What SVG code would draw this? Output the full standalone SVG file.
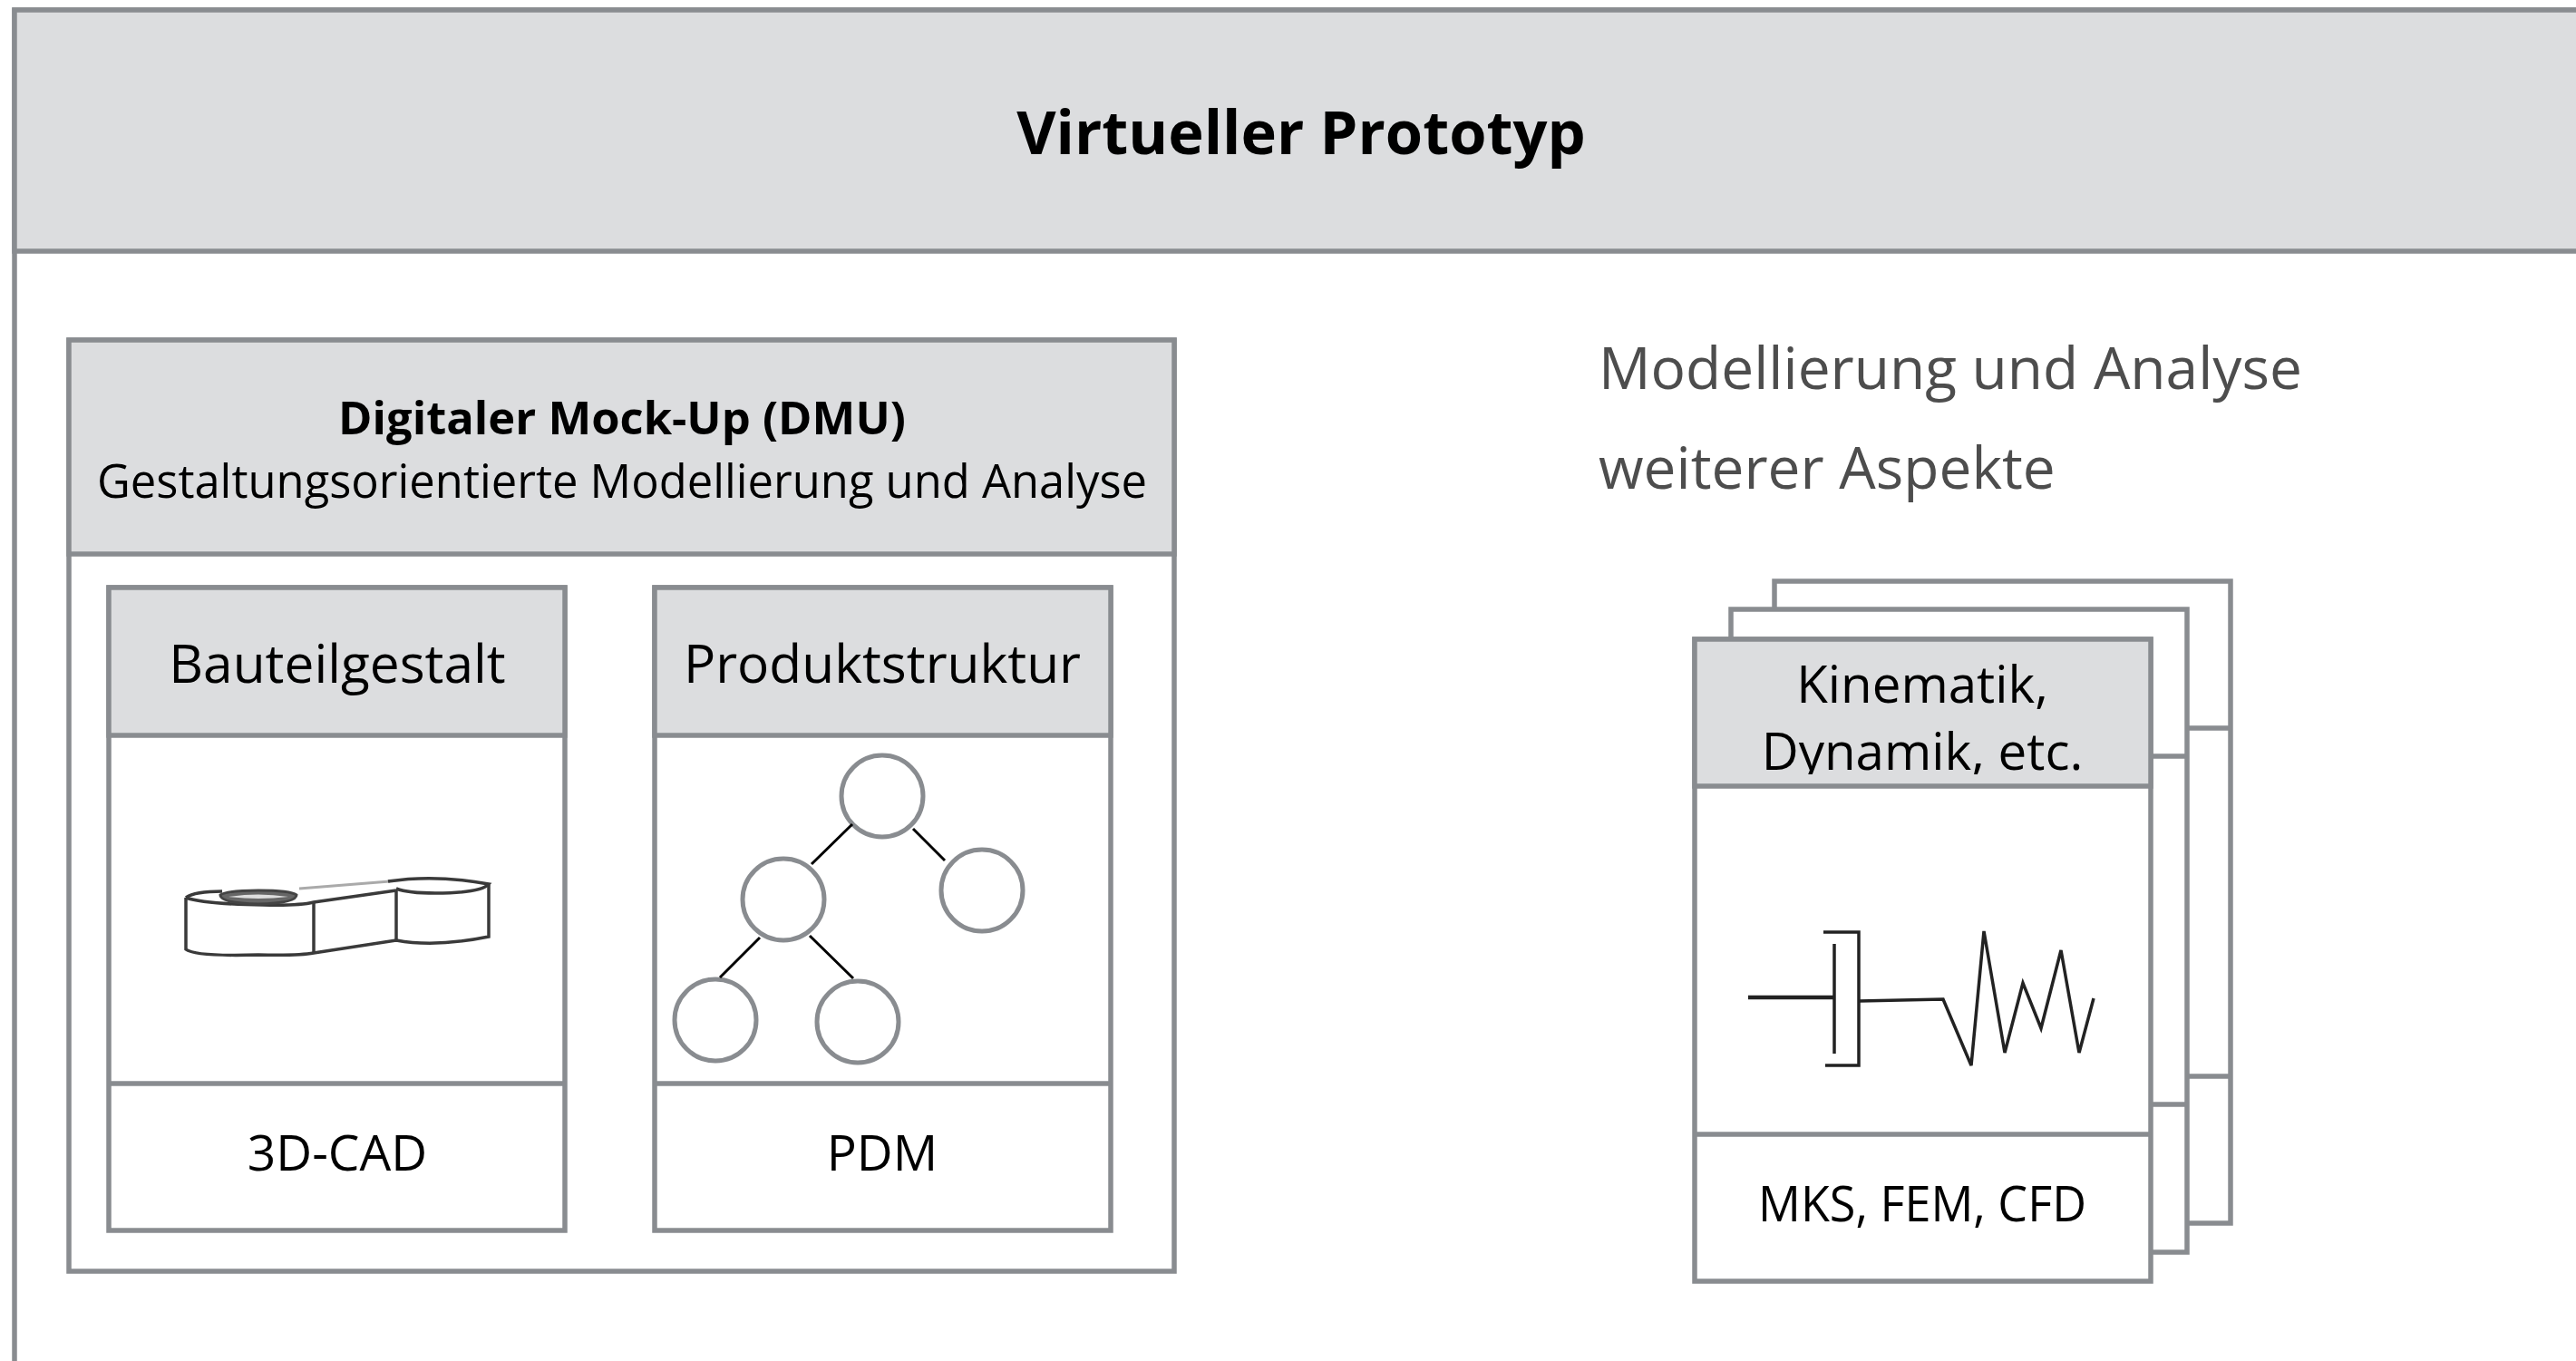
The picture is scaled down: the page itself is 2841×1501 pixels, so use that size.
<svg xmlns="http://www.w3.org/2000/svg" width="2841" height="1501" viewBox="0 0 2841 1501">
<style>
text{font-family:"Open Sans","Noto Sans","Liberation Sans",sans-serif;fill:#000;text-anchor:middle}
.b{fill:#fff;stroke:#898c90;stroke-width:5.5}
.h{fill:#dcdddf;stroke:#898c90;stroke-width:5.5}
.c{fill:#fff;stroke:#898c90;stroke-width:5}
.k{fill:none;stroke:#000;stroke-width:3}
.d{fill:none;stroke:#222;stroke-width:3.5;stroke-linejoin:miter}
.m{font-size:58.6px}
.s{font-size:55px}
.k1{font-size:56.5px}
.t{font-size:50.7px}
.a{font-size:64px;text-anchor:start;fill:#4d4d4d}
</style>
<defs><clipPath id="kc"><rect x="1871" y="707" width="498" height="147"/></clipPath></defs>
<rect width="2841" height="1501" fill="#fff"/>
<g id="outer">
<path class="b" d="M16 1501V11H2841"/>
<rect class="h" x="16" y="11" width="2840" height="266"/>
<text x="1435" y="170" font-size="66.8" font-weight="700">Virtueller Prototyp</text>
</g>
<g id="dmu">
<rect class="b" x="76" y="375" width="1219" height="1027"/>
<rect class="h" x="76" y="375" width="1219" height="236"/>
<text x="686" y="479" class="t" font-weight="700">Digitaler Mock-Up (DMU)</text>
<text x="686" y="549" class="t">Gestaltungsorientierte Modellierung und Analyse</text>
</g>
<g id="bauteil">
<rect class="b" x="120" y="648" width="503" height="709"/>
<rect class="h" x="120" y="648" width="503" height="163"/>
<line class="b" x1="120" y1="1195" x2="623" y2="1195"/>
<text x="372" y="753" class="m">Bauteilgestalt</text>
<text x="372" y="1291" class="s">3D-CAD</text>
<g id="part" fill="none" stroke="#3a3a3a" stroke-width="3.5">
<path d="M205 990V1047Q215 1055 285 1053Q330 1054 346 1051L437 1037Q480 1045 539 1033V976"/>
<path d="M346 995V1051M437 982V1037"/>
<path d="M205 990Q225 997 290 998Q330 999 346 995L437 982"/>
<path d="M205 990Q215 983 245 983"/>
<path d="M330 980L430 972" stroke="#aaa" stroke-width="3"/>
<path d="M428 972Q480 964 539 975Q530 985 480 985Q450 985 437 980"/>
<path d="M243 987Q250 982 285 982Q320 982 327 987Q327 996 285 997Q243 996 243 987Z" fill="#666" stroke="#444" stroke-width="3"/>
<path d="M252 989Q285 984 318 989Q285 993 252 989Z" fill="#ddd" stroke="none"/>
</g>
</g>
<g id="produkt">
<rect class="b" x="722" y="648" width="503" height="709"/>
<rect class="h" x="722" y="648" width="503" height="163"/>
<line class="b" x1="722" y1="1195" x2="1225" y2="1195"/>
<text x="973" y="753" class="m">Produktstruktur</text>
<text x="973" y="1291" class="s">PDM</text>
</g>
<g id="tree">
<circle class="c" cx="973" cy="878" r="45"/>
<circle class="c" cx="864" cy="992" r="45"/>
<circle class="c" cx="1083" cy="982" r="45"/>
<circle class="c" cx="789" cy="1125" r="45"/>
<circle class="c" cx="946" cy="1127" r="45"/>
</g>
<g id="connectors">
<path class="k" d="M940 909L895 953M1007 914L1042 949M838 1034L794 1078M893 1032L941 1079"/>
</g>
<g id="aspekte">
<text x="1763" y="429" class="a">Modellierung und Analyse</text>
<text x="1763" y="539" class="a">weiterer Aspekte</text>
</g>
<g id="card3">
<rect class="b" x="1957" y="641" width="503" height="708"/>
<path class="b" d="M1957 803H2460M1957 1187H2460"/>
</g>
<g id="card2">
<rect class="b" x="1909" y="672" width="503" height="709"/>
<path class="b" d="M1909 834H2412M1909 1218H2412"/>
</g>
<g id="card1">
<rect class="b" x="1869" y="705" width="503" height="708"/>
<rect class="h" x="1869" y="705" width="503" height="162"/>
<line class="b" x1="1869" y1="1251" x2="2372" y2="1251"/>
<g clip-path="url(#kc)">
<text x="2120" y="775" class="k1">Kinematik,</text>
<text x="2120" y="849" class="k1">Dynamik, etc.</text>
</g>
<text x="2120" y="1347" font-size="54" textLength="362" lengthAdjust="spacingAndGlyphs">MKS, FEM, CFD</text>
<path class="d" d="M1928 1100H2023" style="stroke-width:4.5"/>
<path class="d" d="M2023 1041V1162M2011 1028H2050V1175H2013"/>
<path class="d" d="M2050 1104L2143 1102L2174 1175L2188 1027L2211 1161L2231 1084L2251 1134L2273 1048L2293 1161L2309 1101"/>
</g>
</svg>
